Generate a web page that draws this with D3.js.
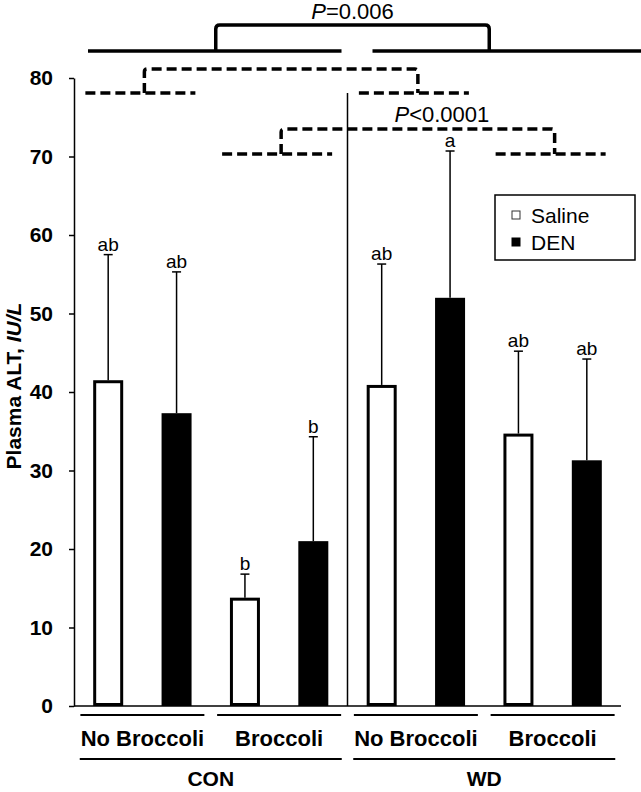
<!DOCTYPE html>
<html><head><meta charset="utf-8">
<script src="https://cdn.jsdelivr.net/npm/d3@7"></script>
<style>html,body{margin:0;padding:0;background:#fff}svg{display:block}</style>
</head><body><svg id="c" width="641" height="792"></svg>
<script>
// ---- data ----
const diets = ["CON", "WD"];
const broccoli = ["No Broccoli", "Broccoli"];
const treatments = ["Saline", "DEN"];
const meanALT = [41.5, 37.3, 13.8, 21.0, 40.9, 52.0, 34.7, 31.3];
const sdALT = [16.0, 18.0, 3.0, 13.3, 15.4, 18.7, 10.5, 12.9];
const sigLetters = ["ab", "ab", "b", "b", "ab", "a", "ab", "ab"];
const yTicks = [0, 10, 20, 30, 40, 50, 60, 70, 80];
const pDiet = "=0.006";
const pBroccoli = "<0.0001";
const yTitle = ["Plasma ALT, ", "IU/L"];

// ---- build ----
const W = 641, H = 792;
const FONT = "'Liberation Sans', Arial, Helvetica, sans-serif";
const svg = d3.select("#c");
svg.append("rect").attr("width", W).attr("height", H).attr("fill", "#fff");

const bars = [];
diets.forEach(d => broccoli.forEach(b => treatments.forEach(t => {
  const i = bars.length;
  bars.push({key: d + "|" + b + "|" + t, diet: d, broc: b, trt: t,
             value: meanALT[i], sd: sdALT[i], letter: sigLetters[i]});
})));
const groupKeys = [];
diets.forEach(d => broccoli.forEach(b => groupKeys.push(d + "|" + b)));

const x0 = 74, x1 = 621;
const x = d3.scaleBand().domain(bars.map(d => d.key)).range([x0, x1]);
const xGroup = d3.scaleBand().domain(groupKeys).range([x0, x1]);
const xDiet = d3.scaleBand().domain(diets).range([x0, x1]);
const y = d3.scaleLinear().domain([0, 80]).range([706, 78]);
const barW = 30;

// y axis
const ax = svg.append("g").attr("transform", `translate(${x0},0)`)
  .call(d3.axisLeft(y).tickValues(yTicks).tickSize(5).tickSizeOuter(0).tickPadding(16));
ax.select(".domain").attr("stroke", "#000").attr("stroke-width", 1.5);
ax.selectAll(".tick line").attr("stroke", "#000").attr("stroke-width", 1.5);
ax.selectAll(".tick text").attr("font-family", FONT).attr("font-size", 21)
  .attr("font-weight", "bold").attr("fill", "#000");

// y title
const yt = svg.append("text").attr("transform", `translate(21,386) rotate(-90)`)
  .attr("text-anchor", "middle").attr("font-family", FONT).attr("font-size", 21)
  .attr("font-weight", "bold").attr("fill", "#000");
yt.append("tspan").text(yTitle[0]);
yt.append("tspan").attr("font-style", "italic").text(yTitle[1]);

// baseline
svg.append("line").attr("x1", x0).attr("x2", x1).attr("y1", y(0)).attr("y2", y(0))
  .attr("stroke", "#000").attr("stroke-width", 1.5);

// divider
svg.append("line").attr("x1", xDiet("WD")).attr("x2", xDiet("WD"))
  .attr("y1", 93).attr("y2", y(0)).attr("stroke", "#000").attr("stroke-width", 1.5);

// bars
const cx = d => x(d.key) + x.bandwidth() / 2;
svg.append("g").selectAll("rect").data(bars).join("rect")
  .attr("x", d => d.trt === "Saline" ? cx(d) - barW / 2 + 1.5 : cx(d) - barW / 2)
  .attr("width", d => d.trt === "Saline" ? barW - 3 : barW)
  .attr("y", d => d.trt === "Saline" ? y(d.value) + 1.5 : y(d.value))
  .attr("height", d => d.trt === "Saline" ? y(0) - y(d.value) - 3 : y(0) - y(d.value))
  .attr("fill", d => d.trt === "Saline" ? "#fff" : "#000")
  .attr("stroke", d => d.trt === "Saline" ? "#000" : "none")
  .attr("stroke-width", 3);

// error bars
const eg = svg.append("g").attr("stroke", "#000").attr("stroke-width", 1.5);
eg.selectAll("line.v").data(bars).join("line").attr("class", "v")
  .attr("x1", cx).attr("x2", cx).attr("y1", d => y(d.value)).attr("y2", d => y(d.value + d.sd));
eg.selectAll("line.c").data(bars).join("line").attr("class", "c")
  .attr("x1", d => cx(d) - 4.5).attr("x2", d => cx(d) + 4.5)
  .attr("y1", d => y(d.value + d.sd)).attr("y2", d => y(d.value + d.sd));

// letters
svg.append("g").selectAll("text").data(bars).join("text")
  .attr("x", cx).attr("y", d => y(d.value + d.sd) - 4)
  .attr("text-anchor", "middle").attr("font-family", FONT).attr("font-size", 19)
  .attr("fill", "#000").text(d => d.letter);

// legend
const lg = svg.append("g");
lg.append("rect").attr("x", 495).attr("y", 195).attr("width", 140).attr("height", 65)
  .attr("fill", "#fff").attr("stroke", "#000").attr("stroke-width", 1.5);
treatments.forEach((t, i) => {
  const cy = 215 + i * 27;
  lg.append("rect").attr("x", 512).attr("y", cy - 4).attr("width", 8).attr("height", 8)
    .attr("fill", t === "Saline" ? "#fff" : "#000").attr("stroke", t === "Saline" ? "#333" : "#000")
    .attr("stroke-width", 1);
  lg.append("text").attr("x", 531).attr("y", cy + 7.5).attr("font-family", FONT)
    .attr("font-size", 21).attr("fill", "#000").text(t);
});

// group labels
const gc = k => xGroup(k) + xGroup.bandwidth() / 2;
const dc = k => xDiet(k) + xDiet.bandwidth() / 2;
groupKeys.forEach(k => {
  svg.append("line").attr("x1", gc(k) - 62).attr("x2", gc(k) + 62)
    .attr("y1", 715).attr("y2", 715).attr("stroke", "#000").attr("stroke-width", 2);
  svg.append("text").attr("x", gc(k)).attr("y", 746).attr("text-anchor", "middle")
    .attr("font-family", FONT).attr("font-size", 22).attr("font-weight", "bold")
    .attr("fill", "#000").text(k.split("|")[1]);
});
diets.forEach(d => {
  svg.append("line").attr("x1", dc(d) - 131).attr("x2", dc(d) + 131)
    .attr("y1", 759).attr("y2", 759).attr("stroke", "#000").attr("stroke-width", 2);
  svg.append("text").attr("x", dc(d)).attr("y", 786).attr("text-anchor", "middle")
    .attr("font-family", FONT).attr("font-size", 21).attr("font-weight", "bold")
    .attr("fill", "#000").text(d);
});

// annotations
function bracket(xa, xb, yLow, yTop, r) {
  return `M${xa},${yLow}V${yTop + r}Q${xa},${yTop} ${xa + r},${yTop}H${xb - r}Q${xb},${yTop} ${xb},${yTop + r}V${yLow}`;
}
const ann = svg.append("g").attr("fill", "none").attr("stroke", "#000");
// diet comparison (solid)
ann.append("line").attr("x1", xDiet("CON") + 14).attr("x2", xDiet("CON") + xDiet.bandwidth() - 6)
  .attr("y1", 51).attr("y2", 51).attr("stroke-width", 3.5);
ann.append("line").attr("x1", xDiet("WD") + 25).attr("x2", W)
  .attr("y1", 51).attr("y2", 51).attr("stroke-width", 3.5);
ann.append("path").attr("d", bracket(dc("CON") + 5, dc("WD") + 5, 51, 25, 4)).attr("stroke-width", 3.5);
svg.append("text").attr("x", (dc("CON") + dc("WD")) / 2 + 5).attr("y", 19).attr("text-anchor", "middle")
  .attr("font-family", FONT).attr("font-size", 22).attr("fill", "#000")
  .call(t => { t.append("tspan").attr("font-style", "italic").text("P"); t.append("tspan").text(pDiet); });

// broccoli comparisons (dashed)
const dashLevels = [{b: "No Broccoli", low: 93, top: 69}, {b: "Broccoli", low: 154, top: 129}];
dashLevels.forEach(L => {
  diets.forEach(d => {
    const c = gc(d + "|" + L.b);
    ann.append("line").attr("x1", c - 57).attr("x2", c + 53).attr("y1", L.low).attr("y2", L.low)
      .attr("stroke-width", 3.5).attr("stroke-dasharray", "10,5");
  });
  ann.append("path").attr("d", bracket(gc("CON|" + L.b) + 2, gc("WD|" + L.b) + 2, L.low, L.top, 3))
    .attr("stroke-width", 3.5).attr("stroke-dasharray", "10,5");
});
svg.append("text").attr("x", (gc("CON|Broccoli") + gc("WD|Broccoli")) / 2 + 26).attr("y", 122)
  .attr("text-anchor", "middle").attr("font-family", FONT).attr("font-size", 22).attr("fill", "#000")
  .call(t => { t.append("tspan").attr("font-style", "italic").text("P"); t.append("tspan").text(pBroccoli); });
</script></body></html>
